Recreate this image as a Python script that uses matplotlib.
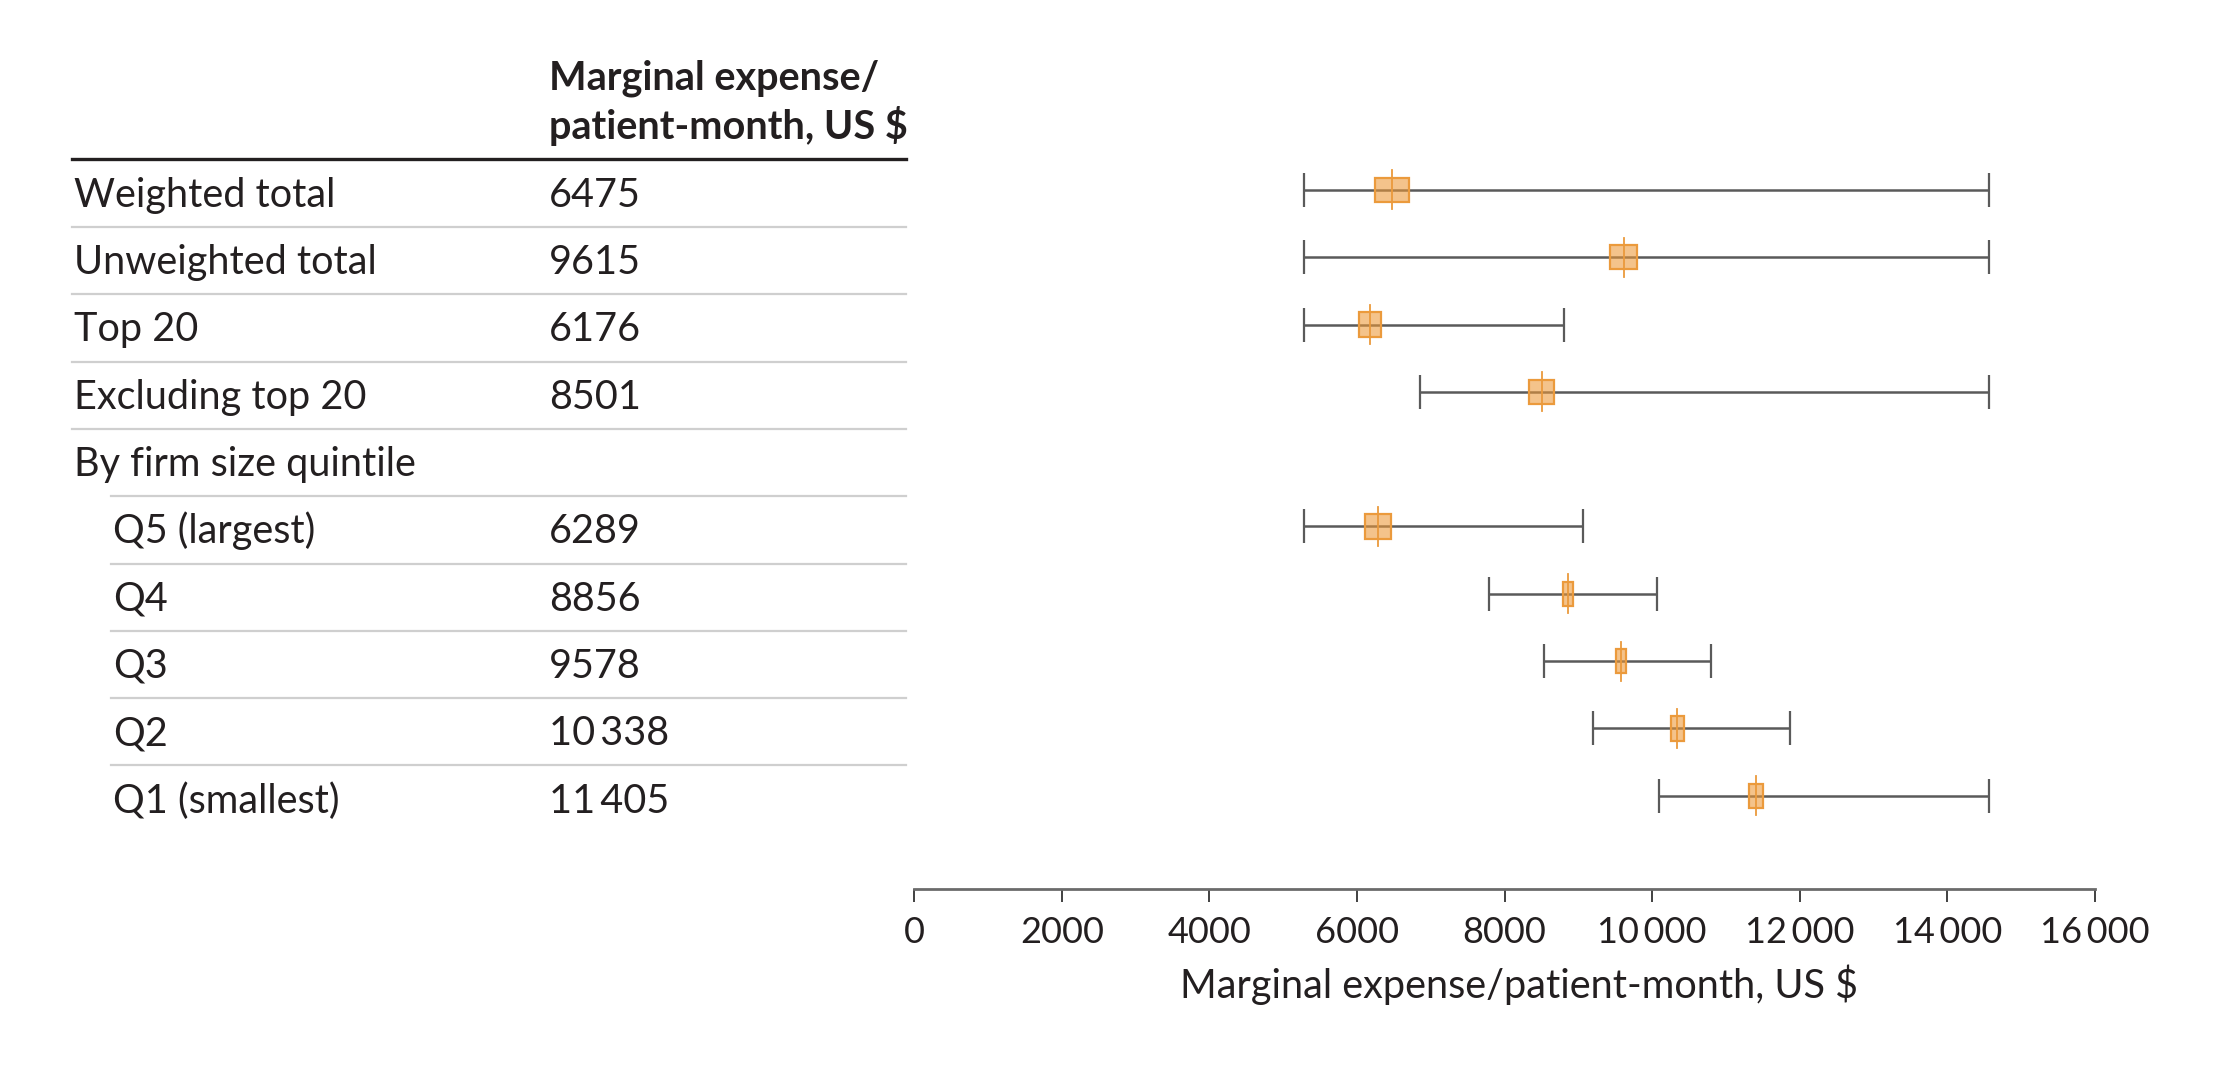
import numpy as np
import matplotlib
matplotlib.use("Agg")
import matplotlib.pyplot as plt
from matplotlib import transforms
from matplotlib.patches import Rectangle
from matplotlib.ticker import FuncFormatter

# data
labels = ["Weighted total", "Unweighted total", "Top 20", "Excluding top 20",
          "By firm size quintile", "Q5 (largest)", "Q4", "Q3", "Q2", "Q1 (smallest)"]
indented = [False, False, False, False, False, True, True, True, True, True]
estimate = [6475, 9615, 6176, 8501, np.nan, 6289, 8856, 9578, 10338, 11405]
low = [5280, 5280, 5280, 6860, np.nan, 5280, 7790, 8540, 9200, 10100]
high = [14570, 14570, 8800, 14570, np.nan, 9070, 10060, 10800, 11870, 14560]
weight_w = [470, 360, 310, 350, np.nan, 350, 135, 135, 175, 190]
xticks = [0, 2000, 4000, 6000, 8000, 10000, 12000, 14000, 16000]

plt.rcParams['font.family'] = ['Lato', 'DejaVu Sans']
TXT = '#231f20'
ORANGE = '#EB9A3C'
FS = 28.5


def fmt(v, pos=None):
    s = str(int(v))
    if len(s) > 4:
        s = s[:-3] + "\u2009" + s[-3:]
    return s


W, H = 2232, 1088
fig = plt.figure(figsize=(W / 100, H / 100), dpi=100)
ax = fig.add_axes([914.3 / W, 1 - 889 / H, 1180.5 / W, (889 - 150) / H])
rows = np.arange(len(labels))
ax.set_xlim(0, 16000)
ax.set_ylim(10.386, -0.594)

est = np.array(estimate, float)
lo = np.array(low, float)
hi = np.array(high, float)
ok = ~np.isnan(est)
ax.errorbar(est[ok], rows[ok], xerr=[est[ok] - lo[ok], hi[ok] - est[ok]], fmt='none',
            ecolor='#5a5a5a', elinewidth=1.8, capsize=12, capthick=1.6, zorder=2)

for r in rows[ok]:
    w = weight_w[r]
    ax.add_patch(Rectangle((est[r] - w / 2, r - 0.18), w, 0.36,
                           facecolor=(0.93, 0.6, 0.22, 0.58), edgecolor=ORANGE,
                           lw=1.6, zorder=3))
    ax.plot([est[r], est[r]], [r - 0.29, r + 0.29], color=ORANGE, lw=1.3, zorder=4)

for s in ['top', 'left', 'right']:
    ax.spines[s].set_visible(False)
ax.spines['bottom'].set_color('#6b6b6b')
ax.spines['bottom'].set_linewidth(2)
ax.set_yticks([])
ax.set_xticks(xticks)
ax.xaxis.set_major_formatter(FuncFormatter(fmt))
ax.tick_params(axis='x', length=9.5, width=1.3, color='#333333', pad=10,
               labelsize=26, labelcolor=TXT)
ax.set_xlabel("Marginal expense/patient-month, US $", fontsize=FS, color=TXT, labelpad=11)
ax.xaxis.label.set_x(0.512)

# table on the left
blend = transforms.blended_transform_factory(fig.transFigure, ax.transData)
x_lab, x_ind, x_val = 74 / W, 113 / W, 549 / W
x_l0, x_l1, x_li = 72 / W, 906 / W, 111 / W

ax.text(x_val, -1.486, "Marginal expense/", transform=blend, fontsize=FS,
        fontweight='bold', color=TXT, va='baseline')
ax.text(x_val, -0.757, "patient-month, US $", transform=blend, fontsize=FS,
        fontweight='bold', color=TXT, va='baseline')
ax.plot([x_l0, x_l1], [-0.46, -0.46], transform=blend, color='#231f20', lw=2.4,
        clip_on=False)

for r, lab in enumerate(labels):
    x = x_ind if indented[r] else x_lab
    ax.text(x, r + 0.25, lab, transform=blend, fontsize=FS, color=TXT, va='baseline')
    if not np.isnan(est[r]):
        ax.text(x_val, r + 0.25, fmt(est[r]), transform=blend, fontsize=FS,
                color=TXT, va='baseline')
    if r < len(labels) - 1:
        xs = x_li if indented[r + 1] else x_l0
        ax.plot([xs, x_l1], [r + 0.55, r + 0.55], transform=blend, color='#cfcfcf',
                lw=1.6, clip_on=False)

fig.savefig("out.png", dpi=100, facecolor='white')
